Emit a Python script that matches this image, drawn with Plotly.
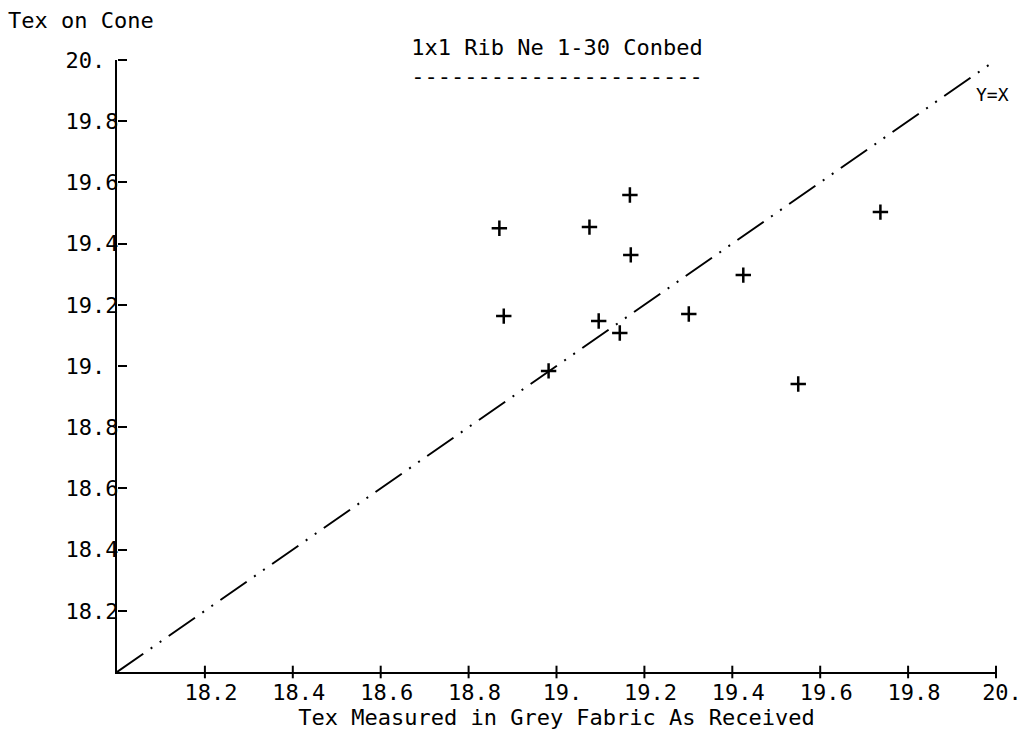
import plotly.graph_objects as go

# Data
tex_fabric = [18.87, 18.88, 19.075, 19.167, 19.169, 19.096, 19.144, 18.982, 19.301, 19.425, 19.55, 19.737]
tex_cone   = [19.45, 19.163, 19.454, 19.559, 19.363, 19.147, 19.108, 18.984, 19.17, 19.297, 18.941, 19.503]

ref_line = [18.0, 20.0]
axis_min = 18.0

x_tickvals = [18.2, 18.4, 18.6, 18.8, 19.0, 19.2, 19.4, 19.6, 19.8, 20.0]
x_ticktext = ["18.2", "18.4", "18.6", "18.8", "19.", "19.2", "19.4", "19.6", "19.8", "20."]
y_tickvals = [18.2, 18.4, 18.6, 18.8, 19.0, 19.2, 19.4, 19.6, 19.8, 20.0]
y_ticktext = ["18.2", "18.4", "18.6", "18.8", "19.\u00a0", "19.2", "19.4", "19.6", "19.8", "20.\u00a0"]

FONT = "DejaVu Sans Mono"
BLACK = "#000000"
FS = 22

fig = go.Figure()

# reference line Y = X (drawn on the overlay axes, same ranges)
fig.add_trace(go.Scatter(
    x=ref_line, y=ref_line, mode="lines", xaxis="x2", yaxis="y2",
    line=dict(color=BLACK, width=2, dash="32px,9px,2px,9px,2px,9px"),
    hoverinfo="skip", showlegend=False, cliponaxis=False,
))

# short tick marks on the x axis
fig.add_trace(go.Scatter(
    x=x_tickvals, y=[axis_min] * len(x_tickvals), mode="markers",
    marker=dict(symbol="line-ns", size=9, line=dict(color=BLACK, width=2), color=BLACK),
    hoverinfo="skip", showlegend=False, cliponaxis=False,
))

fig.add_trace(go.Scatter(
    x=tex_fabric, y=tex_cone, mode="markers",
    marker=dict(symbol="cross-thin", size=11, line=dict(color=BLACK, width=2.5), color=BLACK),
    showlegend=False,
))

fig.update_layout(
    width=1025, height=735,
    margin=dict(l=117, r=29, t=60, b=63, autoexpand=False),
    paper_bgcolor="white", plot_bgcolor="white",
    font=dict(family=FONT, size=FS, color=BLACK),
    title=dict(
        text="1x1 Rib Ne 1-30 Conbed<br>----------------------",
        x=557 / 1025, xanchor="center", xref="container",
        y=1 - 55 / 735, yanchor="top", yref="container",
        font=dict(family=FONT, size=FS, color=BLACK),
    ),
    xaxis=dict(
        range=[18, 20], showgrid=False, zeroline=False,
        showline=True, linecolor=BLACK, linewidth=2,
        ticks="", tickvals=x_tickvals, ticktext=x_ticktext,
        ticklabelshift=6, ticklabeloverflow="allow",
        tickfont=dict(family=FONT, size=FS, color=BLACK),
        title=dict(text="Tex Measured in Grey Fabric As Received", standoff=0,
                   font=dict(family=FONT, size=FS, color=BLACK)),
        automargin=False,
    ),
    yaxis=dict(
        range=[18, 20], showgrid=False, zeroline=False,
        showline=True, linecolor=BLACK, linewidth=2,
        ticks="", tickvals=y_tickvals, ticktext=y_ticktext,
        tickfont=dict(family=FONT, size=FS, color=BLACK),
        automargin=False,
    ),
    xaxis2=dict(
        range=[18, 20], overlaying="x", side="top", anchor="free", position=0,
        showgrid=False, zeroline=False, showline=False, showticklabels=False,
        ticks="", automargin=False,
    ),
    # overlay y axis that carries the inward-pointing tick marks
    yaxis2=dict(
        range=[18, 20], overlaying="y", side="right", anchor="free", position=0,
        showgrid=False, zeroline=False, showline=False, showticklabels=False,
        ticks="outside", ticklen=9, tickwidth=2, tickcolor=BLACK,
        tickvals=y_tickvals, automargin=False,
    ),
    annotations=[
        dict(text="Tex on Cone", xref="paper", yref="paper",
             x=(6 - 117) / 879, y=(672 - 20) / 612, xanchor="left", yanchor="middle",
             showarrow=False, font=dict(family=FONT, size=FS, color=BLACK)),
        dict(text="Y=X", xref="paper", yref="paper",
             x=(974 - 117) / 879, y=(672 - 94) / 612, xanchor="left", yanchor="middle",
             showarrow=False, font=dict(family=FONT, size=18, color=BLACK)),
    ],
)

try:
    fig.layout.yaxis.ticklabelstandoff = -8
except Exception:
    pass

fig.write_html("out.html")
